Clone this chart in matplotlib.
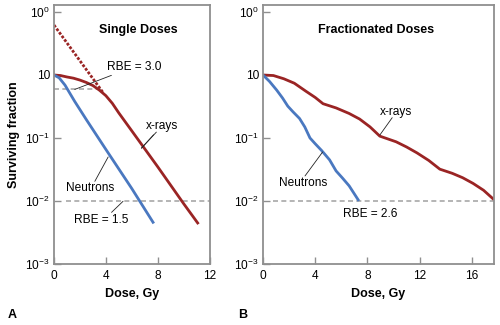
import matplotlib
matplotlib.use("Agg")
import matplotlib.pyplot as plt

plt.rcParams['font.family'] = ['Liberation Sans', 'DejaVu Sans']
plt.rcParams['mathtext.fontset'] = 'custom'
plt.rcParams['mathtext.rm'] = 'Liberation Sans'

# ---- data ----
# Single doses
single_xray_dose = [0, 0.5, 1, 1.5, 2, 2.5, 3, 3.5, 4, 4.5, 5, 6, 8, 10, 11.15]
single_xray_sf = [1.0, 0.98, 0.93, 0.89, 0.83, 0.76, 0.68, 0.575, 0.47, 0.355, 0.25, 0.13, 0.035, 0.0091, 0.0043]
single_extrap_dose = [0, 3.8]
single_extrap_sf = [6.2, 0.52]
single_neut_dose = [0, 0.4, 0.85, 1.6, 2.5, 4, 6, 7.7]
single_neut_sf = [1.0, 0.9, 0.69, 0.38, 0.195, 0.066, 0.0158, 0.0044]

# Fractionated doses
frac_xray_dose = [0, 0.8, 1.6, 2.4, 3.3, 4.0, 4.6, 5.6, 6.6, 7.4, 8.2, 8.95, 10.2, 11.0,
                  11.8, 12.7, 13.55, 14.5, 15.3, 16.1, 16.9, 17.7]
frac_xray_sf = [1.0, 0.98, 0.87, 0.74, 0.55, 0.44, 0.35, 0.30, 0.245, 0.20, 0.15, 0.107,
                0.087, 0.072, 0.058, 0.044, 0.032, 0.0275, 0.0234, 0.019, 0.0148, 0.0105]
frac_neut_dose = [0, 0.5, 1.05, 1.5, 1.9, 2.3, 2.8, 3.2, 3.6, 4.0, 4.5, 5.1, 5.6, 6.1, 6.6, 7.35]
frac_neut_sf = [1.0, 0.79, 0.575, 0.43, 0.32, 0.26, 0.204, 0.15, 0.10, 0.081, 0.063, 0.045,
                0.030, 0.023, 0.0174, 0.0100]

# RBE reference levels
rbe_single_high_level = 0.59
rbe_single_high_span = [0, 3.6]
rbe_low_level = 0.01

ytick_values = [10, 1, 0.1, 0.01, 0.001]
ytick_labels = [r'$\mathregular{10^{0}}$', '10', r'$\mathregular{10^{-1}}$',
                r'$\mathregular{10^{-2}}$', r'$\mathregular{10^{-3}}$']
xticks_single = [0, 4, 8, 12]
xticks_frac = [0, 4, 8, 12, 16]

RED = '#9a2424'
BLUE = '#4a78c0'
GRAY = '#8f8f8f'
DASH = '#a8a8a8'
FS = 8.6

fig = plt.figure(figsize=(5.0, 3.25), dpi=100)
axA = fig.add_axes([0.108, 0.1877, 0.311, 0.7954])
axB = fig.add_axes([0.526, 0.1877, 0.462, 0.7954])

ylo, yhi = 1e-3, 10 ** 1.103


def style(ax, xmax, xticks):
    ax.set_yscale('log')
    ax.set_ylim(ylo, yhi)
    ax.set_xlim(0, xmax)
    ax.set_yticks(ytick_values)
    ax.set_yticklabels(ytick_labels)
    ax.minorticks_off()
    ax.set_xticks(xticks)
    ax.set_xticklabels([str(t) for t in xticks])
    ax.tick_params(direction='in', length=5, width=1, color=GRAY,
                   labelsize=FS, pad=4)
    ax.tick_params(axis='y', pad=3)
    for s in ax.spines.values():
        s.set_color(GRAY)
        s.set_linewidth(1.3)
    ax.set_xlabel('Dose, Gy', fontsize=FS + 0.4, fontweight='bold', labelpad=5)


style(axA, 12, xticks_single)
style(axB, 17.7, xticks_frac)
axA.set_ylabel('Surviving fraction', fontsize=FS + 0.4, fontweight='bold', labelpad=4)

# ---- panel A: single doses ----
axA.plot([0, 12], [rbe_low_level] * 2, color=DASH, lw=1.2, ls=(0, (3, 2)))
axA.lines[-1].set_xdata([0.9, 12])
axA.plot(rbe_single_high_span, [rbe_single_high_level] * 2, color=DASH, lw=1.2, ls=(0, (3, 2)))
axA.plot(single_extrap_dose, single_extrap_sf, color=RED, lw=2.0, ls=(0, (1, 0.6)))
axA.plot(single_xray_dose, single_xray_sf, color=RED, lw=2.0, solid_capstyle='butt')
axA.plot(single_neut_dose, single_neut_sf, color=BLUE, lw=2.0, solid_capstyle='butt')

axA.text(6.5, 5.2, 'Single Doses', fontsize=FS + 0.4, fontweight='bold', ha='center', va='center')
arrow = dict(arrowstyle='-', lw=0.6, color='#222222', shrinkA=0, shrinkB=0)
axA.annotate('RBE = 3.0', xy=(1.6, 0.59), xytext=(4.1, 1.36), fontsize=FS,
             ha='left', va='center', arrowprops=arrow)
axA.annotate('x-rays', xy=(6.75, 0.069), xytext=(8.3, 0.155), fontsize=FS,
             ha='center', va='center', arrowprops=arrow)
axA.annotate('', xy=(6.75, 0.069), xytext=(7.9, 0.124), arrowprops=arrow)
axA.text(2.82, 0.0163, 'Neutrons', fontsize=FS, ha='center', va='center')
axA.annotate('', xy=(4.18, 0.05), xytext=(3.15, 0.0205), arrowprops=arrow)
axA.text(3.67, 0.0050, 'RBE = 1.5', fontsize=FS, ha='center', va='center')
axA.annotate('', xy=(5.33, 0.0099), xytext=(4.44, 0.0066), arrowprops=arrow)

# ---- panel B: fractionated doses ----
axB.plot([0.75, 17.7], [rbe_low_level] * 2, color=DASH, lw=1.2, ls=(0, (3, 2)))
axB.plot(frac_xray_dose, frac_xray_sf, color=RED, lw=2.0, solid_capstyle='butt')
axB.plot(frac_neut_dose, frac_neut_sf, color=BLUE, lw=2.0, solid_capstyle='butt')

axB.text(8.7, 5.2, 'Fractionated Doses', fontsize=FS + 0.4, fontweight='bold',
         ha='center', va='center')
axB.text(10.2, 0.26, 'x-rays', fontsize=FS, ha='center', va='center')
axB.annotate('', xy=(8.96, 0.112), xytext=(9.9, 0.21), arrowprops=arrow)
axB.text(3.09, 0.0195, 'Neutrons', fontsize=FS, ha='center', va='center')
axB.annotate('', xy=(4.57, 0.06), xytext=(3.22, 0.025), arrowprops=arrow)
axB.text(8.2, 0.0063, 'RBE = 2.6', fontsize=FS, ha='center', va='center')

# panel letters
fig.text(12 / 500, 1 - 315 / 325, 'A', fontsize=FS + 0.4, fontweight='bold', ha='center', va='center')
fig.text(243 / 500, 1 - 315 / 325, 'B', fontsize=FS + 0.4, fontweight='bold', ha='center', va='center')

fig.savefig('out.png', dpi=100)
